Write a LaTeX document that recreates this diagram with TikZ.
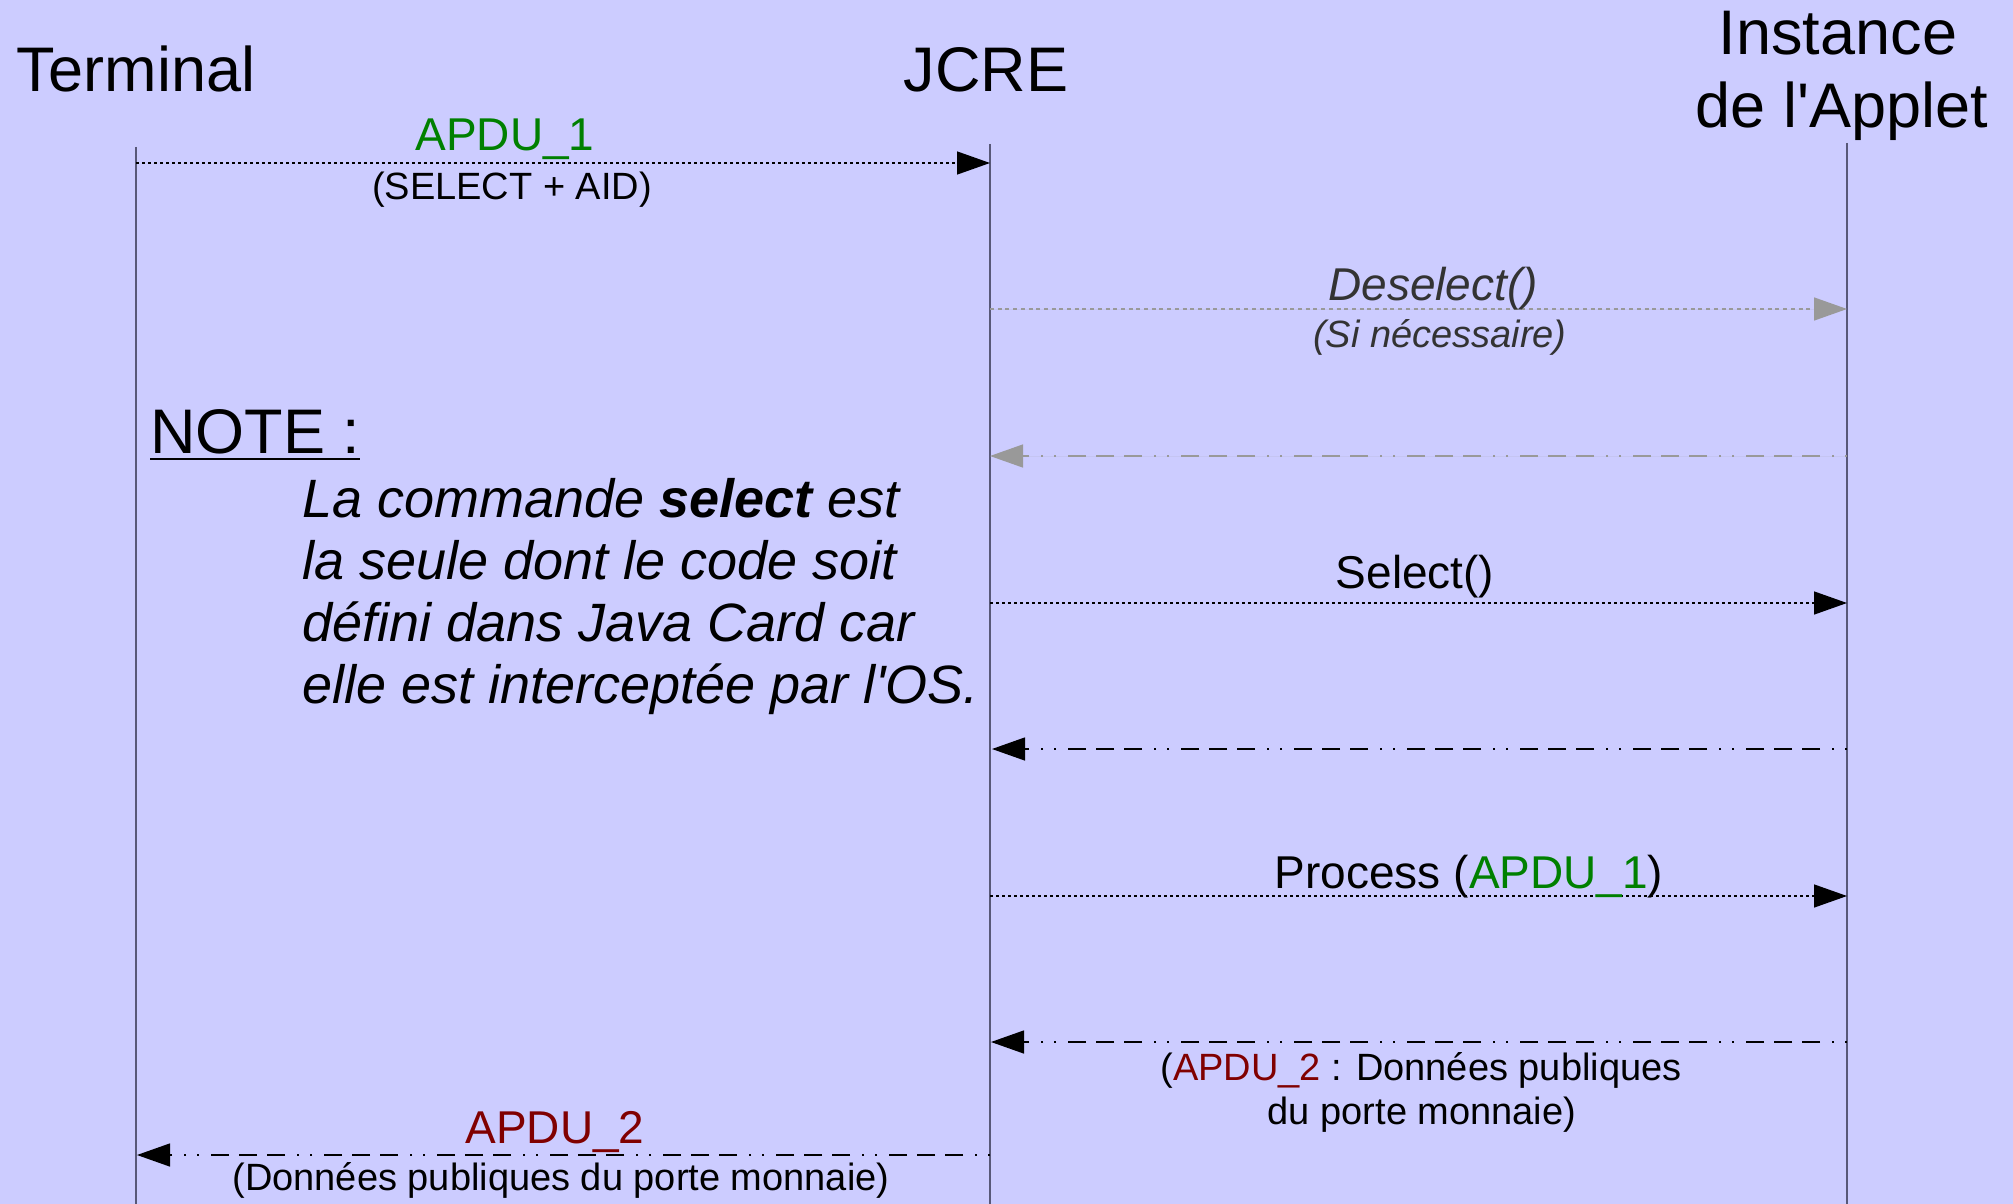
\documentclass[tikz,border=0pt]{standalone}
\usepackage{fontspec}
\setmainfont{Liberation Sans}
\usetikzlibrary{arrows.meta}

\definecolor{bgc}{RGB}{204,204,255}
\definecolor{lifec}{RGB}{88,88,120}
\definecolor{apduone}{RGB}{0,128,0}
\definecolor{apdutwo}{RGB}{128,0,0}
\definecolor{greymsg}{RGB}{153,153,153}
\definecolor{labelgrey}{RGB}{51,51,51}

\begin{document}
\begin{tikzpicture}[x=1pt,y=-1pt,
  lifeline/.style={draw=lifec, line width=1.6pt},
  title/.style={font=\fontsize{63}{72}\selectfont, inner sep=0pt, anchor=base},
  msglabel/.style={font=\fontsize{46}{53}\selectfont, inner sep=0pt, anchor=base},
  sublabel/.style={font=\fontsize{38}{44}\selectfont, inner sep=0pt, anchor=base},
  tip/.style={-{Triangle[length=33pt,width=23pt]}},
  call/.style={tip, line width=1.4pt, dash pattern=on 3pt off 3pt},
  greycall/.style={tip, draw=greymsg, fill=greymsg, line width=1.4pt, dash pattern=on 4pt off 3.7pt},
  reply/.style={tip, line width=1.4pt,
    dash pattern=on 2pt off 11pt on 2pt off 12pt on 18pt off 10pt on 18pt off 10pt on 18pt off 12pt},
  greyreply/.style={reply, draw=greymsg, fill=greymsg},
]
% background
\fill[bgc] (0,0) rectangle (2013,1204);
\useasboundingbox (0,0) rectangle (2013,1204);

% participants
\node[title] (term) at (136,92) {Terminal};
\node[title] (jcre) at (986,92) {JCRE};
\node[title] (app1) at (1838,55) {Instance};
\node[title] (app2) at (1842,128) {de l\textquotesingle Applet};

% lifelines
\coordinate (termtop) at (136,147);
\coordinate (termbot) at (136,1204);
\coordinate (jcretop) at (990,144);
\coordinate (jcrebot) at (990,1204);
\coordinate (apptop) at (1847,143);
\coordinate (appbot) at (1847,1204);
\draw[lifeline] (termtop) -- (termbot);
\draw[lifeline] (jcretop) -- (jcrebot);
\draw[lifeline] (apptop) -- (appbot);

% message end points on the lifelines
\coordinate (t1) at (136,163);  \coordinate (j1) at (990,163);
\coordinate (j2) at (990,309);  \coordinate (a2) at (1847,309);
\coordinate (a3) at (1847,456); \coordinate (j3) at (990,456);
\coordinate (j4) at (990,603);  \coordinate (a4) at (1847,603);
\coordinate (a5) at (1847,749); \coordinate (j5) at (992,749);
\coordinate (j6) at (990,896);  \coordinate (a6) at (1847,896);
\coordinate (a7) at (1847,1042);\coordinate (j7) at (991,1042);
\coordinate (j8) at (990,1155); \coordinate (t8) at (137,1155);

% APDU_1 : select command
\draw[call] (t1) -- (j1);
\node[msglabel, text=apduone] (l1) at (505,150) {APDU\_1};
\node[sublabel] (s1) at (512,199) {(SELECT + AID)};

% deselect of the current applet
\draw[greycall] (j2) -- (a2);
\node[msglabel, text=labelgrey, font=\fontsize{46}{53}\selectfont\itshape] (l2) at (1433,300) {Deselect()};
\node[sublabel, text=labelgrey, font=\fontsize{38}{44}\selectfont\itshape] (s2) at (1440,347) {(Si nécessaire)};
\draw[greyreply] (a3) -- (j3);

% select of the new applet
\draw[call] (j4) -- (a4);
\node[msglabel] (l4) at (1415,588) {Select()};
\draw[reply] (a5) -- (j5);

% process of the APDU
\draw[call] (j6) -- (a6);
\node[msglabel] (l6) at (1469,888) {Process (\textcolor{apduone}{APDU\_1})};
\draw[reply] (a7) -- (j7);
\node[sublabel] (s7a) at (1421,1080) {(\textcolor{apdutwo}{APDU\_2} : Données publiques};
\node[sublabel] (s7b) at (1422,1124) {du porte monnaie)};

% answer to the terminal
\draw[reply] (j8) -- (t8);
\node[msglabel, text=apdutwo] (l8) at (555,1143) {APDU\_2};
\node[sublabel] (s8) at (561,1190) {(Données publiques du porte monnaie)};

% note
\node[title, anchor=base west] (note) at (150,453) {NOTE :};
\draw[line width=2.6pt] ([yshift=-6pt]note.base west) -- ([yshift=-6pt]note.base east);
\node[inner sep=0pt, anchor=base west, align=left,
      font=\fontsize{54}{62}\selectfont\itshape] (notebody) at (302,703)
  {La commande \textbf{select} est\\la seule dont le code soit\\défini dans Java Card car\\elle est interceptée par l\textquotesingle OS.};
\end{tikzpicture}
\end{document}
